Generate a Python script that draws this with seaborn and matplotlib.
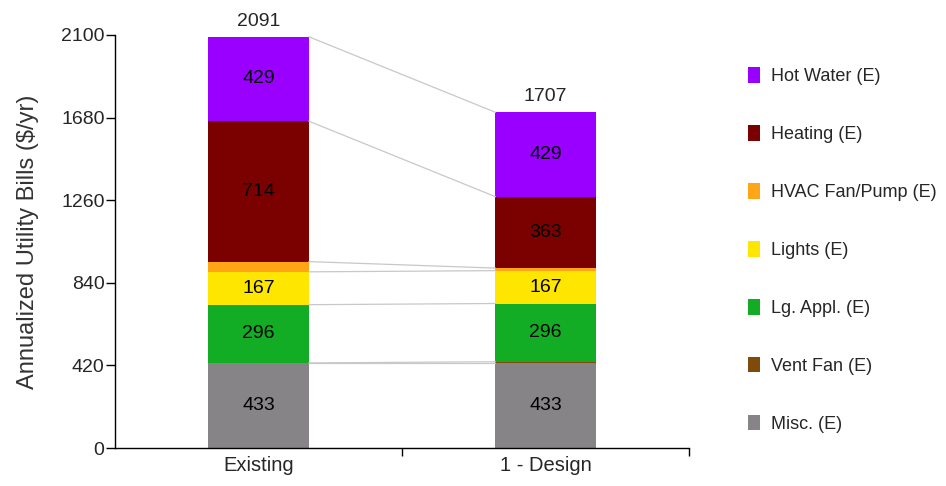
"""Annualized utility bills, existing vs. design, stacked by end use."""
import matplotlib
matplotlib.use("Agg")
import matplotlib.pyplot as plt
from matplotlib.patches import Patch
import numpy as np
import pandas as pd
import seaborn as sns

# data (bottom to top of each stack)
scenarios = ["Existing", "1 - Design"]
end_uses = ["Misc. (E)", "Vent Fan (E)", "Lg. Appl. (E)", "Lights (E)",
            "HVAC Fan/Pump (E)", "Heating (E)", "Hot Water (E)"]
existing = [433, 0, 296, 167, 52, 714, 429]
design = [433, 6, 296, 167, 13, 363, 429]
colors = ["#868487", "#7f4a0a", "#12ad25", "#ffe600",
          "#ffa516", "#7b0000", "#9900ff"]
y_ticks = [0, 420, 840, 1260, 1680, 2100]

sns.set_theme(style="white")
plt.rcParams["font.family"] = ["Liberation Sans", "DejaVu Sans"]

values = np.array([existing, design], dtype=float)  # scenario x end use
bottoms = np.hstack([np.zeros((2, 1)), np.cumsum(values, axis=1)[:, :-1]])
tops = bottoms + values

fig = plt.figure(figsize=(9.46, 4.86), dpi=100)
ax = fig.add_axes([0.1216, 0.078, 0.607, 0.85])

width = 0.35
for j, use in enumerate(end_uses):
    df = pd.DataFrame({"scenario": scenarios, "value": values[:, j]})
    sns.barplot(data=df, x="scenario", y="value", order=scenarios,
                color=colors[j], saturation=1, width=width,
                bottom=bottoms[:, j], linewidth=0, ax=ax)
    for i in range(2):
        if values[i, j] >= 100:
            ax.text(i, bottoms[i, j] + values[i, j] / 2, f"{values[i, j]:.0f}",
                    ha="center", va="center", fontsize=14, color="black")

# connector lines between stack boundaries
for j in range(len(end_uses)):
    ax.plot([width / 2, 1 - width / 2], [tops[0, j], tops[1, j]],
            color="#c8c8c8", lw=0.9, zorder=1)
ax.plot([width / 2, 1 - width / 2], [bottoms[0, 0], bottoms[1, 0]],
        color="#c8c8c8", lw=0.9, zorder=1)

totals = values.sum(axis=1)
for i, t in enumerate(totals):
    ax.text(i, t + 35, f"{t:.0f}", ha="center", va="bottom", fontsize=14)

ax.set_xlim(-0.5, 1.5)
ax.set_ylim(0, 2100)
ax.set_yticks(y_ticks)
ax.set_yticklabels([str(v) for v in y_ticks], fontsize=14)
ax.set_xticks([0, 1])
ax.set_xticklabels(scenarios, fontsize=14.5)
ax.set_xticks([0.5, 1.5], minor=True)
ax.tick_params(axis="x", which="major", length=0, pad=6)
ax.tick_params(axis="x", which="minor", length=6, width=1, color="black",
               bottom=True)
ax.tick_params(axis="y", length=6.5, width=1, color="black", left=True, pad=1)
ax.set_xlabel("")
ax.set_ylabel("Annualized Utility Bills ($/yr)", fontsize=17, color="#333333",
              labelpad=16)
for side in ["top", "right"]:
    ax.spines[side].set_visible(False)
for side in ["left", "bottom"]:
    ax.spines[side].set_color("black")
    ax.spines[side].set_linewidth(1)

handles = [Patch(facecolor=c, edgecolor="none", label=u)
           for c, u in zip(colors, end_uses)][::-1]
fig.legend(handles=handles, loc="upper left", bbox_to_anchor=(0.781, 0.88),
           frameon=False, fontsize=13, labelspacing=2.21, handlelength=0.66,
           handleheight=0.95, handletextpad=0.6, borderpad=0)

fig.savefig("out.png", dpi=100)
